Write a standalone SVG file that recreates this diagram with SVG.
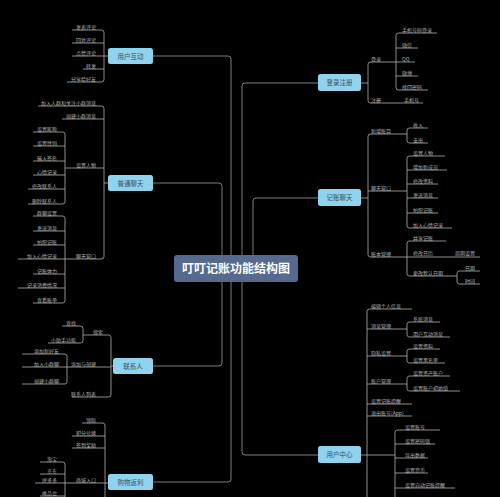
<svg xmlns="http://www.w3.org/2000/svg" width="500" height="497" viewBox="0 0 500 497">
<style>
.bg{fill:#000}
.c{fill:none;stroke:#8a8a8a;stroke-width:0.9}
.u{fill:none;stroke:#b0b0b0;stroke-width:0.8}
.t{font-family:"Noto Sans CJK SC","Noto Sans",sans-serif;font-size:5px;fill:#b4b4b4}
.e{text-anchor:end}
.b1{fill:#8fd3ee}
.t1{font-family:"Noto Sans CJK SC","Noto Sans",sans-serif;font-size:6.5px;fill:#3d4f5c;text-anchor:middle}
.b0{fill:#56698f}
.t0{font-family:"Noto Sans CJK SC","Noto Sans",sans-serif;font-size:12px;font-weight:bold;fill:#fff;text-anchor:middle}
</style>
<rect class="bg" x="0" y="0" width="500" height="497"/>
<g id="connectors">
<path class="c" d="M231 255V59Q231 56 228 56H153"/>
<path class="c" d="M222 255V186Q222 183 219 183H153"/>
<path class="c" d="M242 255V86Q242 83 245 83H318"/>
<path class="c" d="M253 255V201Q253 198 256 198H318"/>
<path class="c" d="M222 282V363Q222 366 219 366H153"/>
<path class="c" d="M231 282V479Q231 482 228 482H153"/>
<path class="c" d="M242 282V452Q242 455 245 455H318"/>
</g>
<g id="center"><rect class="b0" x="174" y="255" width="124" height="27" rx="3"/><text class="t0" x="236" y="273">叮叮记账功能结构图</text></g>

<g id="n-hudong">
<rect class="b1" x="108" y="48" width="45" height="16" rx="2.5"/><text class="t1" x="130.5" y="58.5">用户互动</text>
<path class="u" d="M72 30H101.5Q104 30 104 32.5V79.5Q104 82 101.5 82H67M72 43H104M72 56H108M83 69H104"/>
<text class="t e" x="96" y="28.5">发表评论</text>
<text class="t e" x="96" y="41.5">回复评论</text>
<text class="t e" x="96" y="54.5">点赞评论</text>
<text class="t e" x="96" y="67.5">转发</text>
<text class="t e" x="96" y="80.5">分享给好友</text>
</g>

<g id="n-putong">
<rect class="b1" x="108" y="175" width="45" height="16" rx="2.5"/><text class="t1" x="130.5" y="185.5">普通聊天</text>
<path class="u" d="M38 106H101.5Q104 106 104 108.5V256.5Q104 259 101.5 259H18M62 119H104M65 168H104M104 183H108"/>
<text class="t e" x="96" y="104.5">加入人群和关注小群消息</text>
<text class="t e" x="96" y="117.5">创建小群消息</text>
<text class="t e" x="96" y="166.5">设置人物</text>
<text class="t e" x="96" y="257.5">聊天窗口</text>
<path class="u" d="M33 132H62.5Q65 132 65 134.5V201.5Q65 204 62.5 204H28M33 146H65M33 161H65M33 175H65M28 189H65"/>
<text class="t e" x="57" y="130.5">设置昵称</text>
<text class="t e" x="57" y="144.5">设置性别</text>
<text class="t e" x="57" y="159.5">输入签名</text>
<text class="t e" x="57" y="173.5">心情记录</text>
<text class="t e" x="57" y="187.5">修改联系人</text>
<text class="t e" x="57" y="202.5">删除联系人</text>
<path class="u" d="M33 216H62.5Q65 216 65 218.5V300.5Q65 303 62.5 303H33M33 231H65M33 245H65M33 274H65M18 288H65"/>
<text class="t e" x="57" y="214.5">群聊设置</text>
<text class="t e" x="57" y="229.5">发送消息</text>
<text class="t e" x="57" y="243.5">拍照记账</text>
<text class="t e" x="57" y="257.5">加入心情记录</text>
<text class="t e" x="57" y="272.5">记账体力</text>
<text class="t e" x="57" y="286.5">记录消费情况</text>
<text class="t e" x="57" y="301.5">查看账单</text>
</g>

<g id="n-lianxiren">
<rect class="b1" x="113" y="358" width="40" height="16" rx="2.5"/><text class="t1" x="133" y="368.5">联系人</text>
<path class="u" d="M83 335H108.5Q111 335 111 337.5V394.5Q111 397 108.5 397H72M111 366H113M22 367H111"/>
<text class="t e" x="103" y="333.5">搜索</text>
<text class="t e" x="96" y="365.5">添加与创建</text>
<text class="t e" x="96" y="395.5">联系人列表</text>
<path class="u" d="M62 326H80.5Q83 326 83 328.5V340.5Q83 343 80.5 343H48"/>
<text class="t e" x="76" y="324.5">查找</text>
<text class="t e" x="76" y="341.5">小助手功能</text>
<path class="u" d="M22 354H64.5Q67 354 67 356.5V381.5Q67 384 64.5 384H22"/>
<text class="t e" x="59" y="352.5">添加新好友</text>
<text class="t e" x="59" y="365.5">加入小群聊</text>
<text class="t e" x="59" y="382.5">创建小群聊</text>
</g>

<g id="n-gouwu">
<rect class="b1" x="108" y="474" width="45" height="16" rx="2.5"/><text class="t1" x="130.5" y="484.5">购物返利</text>
<path class="u" d="M82 423H102.5Q105 423 105 425.5V497M72 436H105M72 448H105M35 483H108"/>
<text class="t e" x="96" y="421.5">领取</text>
<text class="t e" x="96" y="434.5">积分兑换</text>
<text class="t e" x="96" y="446.5">签到奖励</text>
<text class="t e" x="96" y="481.5">商城入口</text>
<path class="u" d="M40 462H62.5Q65 462 65 464.5V497M40 474H65M40 496H65"/>
<text class="t e" x="57" y="460.5">淘宝</text>
<text class="t e" x="57" y="472.5">京东</text>
<text class="t e" x="57" y="481.5">拼多多</text>
<text class="t e" x="57" y="494.5">唯品会</text>
</g>

<g id="n-denglu">
<rect class="b1" x="318" y="74" width="43" height="17" rx="2.5"/><text class="t1" x="339.5" y="85">登录注册</text>
<path class="u" d="M415 62H370.5Q368 62 368 64.5V100.5Q368 103 370.5 103H423M361 83H368"/>
<text class="t" x="371" y="60.5">登录</text>
<text class="t" x="371" y="101.5">注册</text>
<text class="t" x="404" y="101.5">手机号</text>
<path class="u" d="M437 33H398.5Q396 33 396 35.5V87.5Q396 90 398.5 90H428M396 48H418M396 76H418"/>
<text class="t" x="402" y="31.5">手机号码登录</text>
<text class="t" x="402" y="46.5">微信</text>
<text class="t" x="402" y="60.5">QQ</text>
<text class="t" x="402" y="74.5">微博</text>
<text class="t" x="402" y="88.5">找回密码</text>
</g>

<g id="n-jizhang">
<rect class="b1" x="318" y="189" width="43" height="17" rx="2.5"/><text class="t1" x="339.5" y="200">记账聊天</text>
<path class="u" d="M407 134H370.5Q368 134 368 136.5V254.5Q368 257 370.5 257H480M361 198H368M368 191H407"/>
<text class="t" x="371" y="132.5">新增账目</text>
<text class="t" x="371" y="189.5">聊天窗口</text>
<text class="t" x="371" y="255.5">账本管理</text>
<path class="u" d="M428 128H409.5Q407 128 407 130.5V140.5Q407 143 409.5 143H428"/>
<text class="t" x="413" y="126.5">收入</text>
<text class="t" x="413" y="141.5">支出</text>
<path class="u" d="M445 156H409.5Q407 156 407 158.5V225.5Q407 228 409.5 228H452M407 170H447M407 184H438M407 198H438M407 213H438"/>
<text class="t" x="413" y="154.5">设置人物</text>
<text class="t" x="413" y="168.5">增加新成员</text>
<text class="t" x="413" y="182.5">修改资料</text>
<text class="t" x="413" y="196.5">发送消息</text>
<text class="t" x="413" y="211.5">拍照记账</text>
<text class="t" x="413" y="226.5">加入心情记录</text>
<path class="u" d="M446 241H409.5Q407 241 407 243.5V273.5Q407 276 409.5 276H457"/>
<text class="t" x="413" y="239.5">共享记账</text>
<text class="t" x="413" y="254.5">修改日历</text>
<text class="t" x="455" y="254.5">周期设置</text>
<text class="t" x="413" y="274.5">更改默认日期</text>
<path class="u" d="M480 271H459.5Q457 271 457 273.5V281.5Q457 284 459.5 284H480"/>
<text class="t" x="465" y="269.5">日期</text>
<text class="t" x="465" y="282.5">时间</text>
</g>

<g id="n-zhongxin">
<rect class="b1" x="318" y="446" width="43" height="17" rx="2.5"/><text class="t1" x="339.5" y="457">用户中心</text>
<path class="u" d="M412 309H369.5Q367 309 367 311.5V497M367 329H407M367 356H407M367 384H407M367 404H412M367 416H412M361 455H395"/>
<text class="t" x="371" y="307.5">编辑个人信息</text>
<text class="t" x="371" y="327.5">消息管理</text>
<text class="t" x="371" y="354.5">隐私设置</text>
<text class="t" x="371" y="382.5">账户管理</text>
<text class="t" x="371" y="402.5">设置记账提醒</text>
<text class="t" x="371" y="414.5">退出账号(App)</text>
<path class="u" d="M440 322H409.5Q407 322 407 324.5V334.5Q407 337 409.5 337H450"/>
<text class="t" x="413" y="320.5">系统消息</text>
<text class="t" x="413" y="335.5">用户互动消息</text>
<path class="u" d="M440 349H409.5Q407 349 407 351.5V360.5Q407 363 409.5 363H445"/>
<text class="t" x="413" y="347.5">设置资料</text>
<text class="t" x="413" y="361.5">设置黑名单</text>
<path class="u" d="M450 376H409.5Q407 376 407 378.5V388.5Q407 391 409.5 391H460"/>
<text class="t" x="413" y="374.5">设置资产账户</text>
<text class="t" x="413" y="389.5">设置账户初始值</text>
<path class="u" d="M440 430H397.5Q395 430 395 432.5V497M395 444H435M395 458H428M395 473H428M395 488H455"/>
<text class="t" x="405" y="428.5">设置账号</text>
<text class="t" x="405" y="442.5">设置密码锁</text>
<text class="t" x="405" y="456.5">导出数据</text>
<text class="t" x="405" y="471.5">设置货币</text>
<text class="t" x="405" y="486.5">设置自动记账提醒</text>
</g>
</svg>
